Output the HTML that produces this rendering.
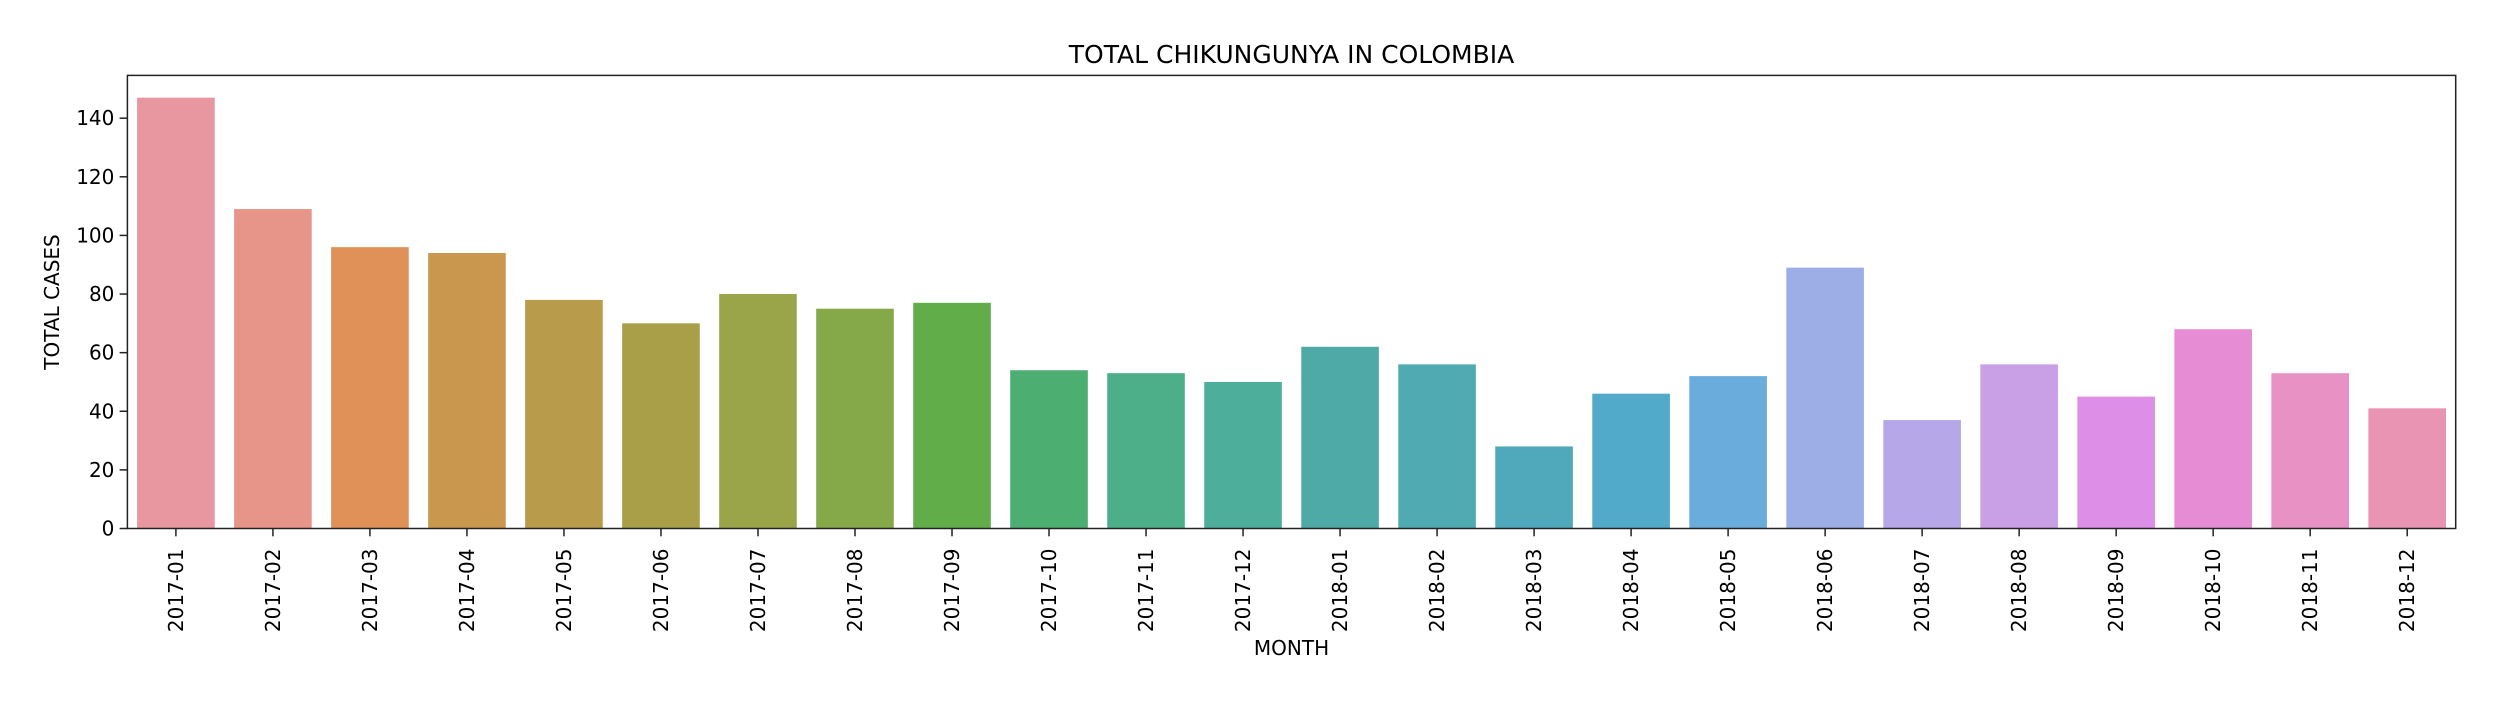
<!DOCTYPE html>
<html><head><meta charset="utf-8"><style>
html,body{margin:0;padding:0;background:#fff;}
svg text{font-family:"DejaVu Sans","Liberation Sans",sans-serif;fill:#000;}
</style></head><body>
<svg id="chart" width="2497" height="704" viewBox="0 0 2497 704" xmlns="http://www.w3.org/2000/svg">
<text x="1291.5" y="63" font-size="25" text-anchor="middle">TOTAL CHIKUNGUNYA IN COLOMBIA</text>
<text transform="translate(59,302) rotate(-90)" font-size="20" text-anchor="middle">TOTAL CASES</text>
<text x="1291.5" y="655" font-size="20" text-anchor="middle">MONTH</text>
<g id="bars"></g><g id="xticks"></g><g id="yticks"></g>
<rect x="127.4" y="75.4" width="2328.3" height="453.1" fill="none" stroke="#222" stroke-width="1.5"/>
</svg>
<script>
const categories = ["2017-01","2017-02","2017-03","2017-04","2017-05","2017-06","2017-07","2017-08","2017-09","2017-10","2017-11","2017-12","2018-01","2018-02","2018-03","2018-04","2018-05","2018-06","2018-07","2018-08","2018-09","2018-10","2018-11","2018-12"];
const values = [147,109,96,94,78,70,80,75,77,54,53,50,62,56,28,46,52,89,37,56,45,68,53,41];
const yTicks = [0,20,40,60,80,100,120,140];
const colors = ["#e8969f","#e79589","#e09157","#c9984e","#b89c4b","#a89f48","#9aa449","#85a848","#60ad4a","#4cae71","#4caf8a","#4daf9b","#4eaaa6","#4fabb1","#50a9bb","#52aacb","#6aaddd","#9caee5","#b6a8e8","#c99fe5","#dd8ee6","#e68cd4","#e891c4","#e894b2"];
const L=127.4,R=2455.7,T=75.4,B=528.5,yMax=154.6;
const NS="http://www.w3.org/2000/svg";
const band=(R-L)/categories.length;
const xScale=i=>L+band*(i+0.5);
const yScale=v=>B-(v/yMax)*(B-T);
const bars=document.getElementById('bars'),xt=document.getElementById('xticks'),yt=document.getElementById('yticks');
categories.forEach((c,i)=>{
  const r=document.createElementNS(NS,'rect');
  
  
  const w=band*0.8;
  r.setAttribute('x',xScale(i)-w/2);r.setAttribute('width',w);
  r.setAttribute('y',yScale(values[i]));r.setAttribute('height',B-yScale(values[i]));
  r.setAttribute('fill',colors[i%colors.length]);
  bars.appendChild(r);
  const tk=document.createElementNS(NS,'line');
  
  
  tk.setAttribute('x1',xScale(i));tk.setAttribute('x2',xScale(i));tk.setAttribute('y1',B);tk.setAttribute('y2',B+7.8);
  tk.setAttribute('stroke','#222');tk.setAttribute('stroke-width','1.5');
  xt.appendChild(tk);
  const t=document.createElementNS(NS,'text');
  
  
  const x=xScale(i)+7;
  t.setAttribute('transform','translate('+x+','+(B+20)+') rotate(-90)');
  t.setAttribute('text-anchor','end');t.setAttribute('font-size','20');
  t.textContent=c;xt.appendChild(t);
});
yTicks.forEach(v=>{
  const y=yScale(v);
  const tk=document.createElementNS(NS,'line');
  
  
  tk.setAttribute('x1',L-7.8);tk.setAttribute('x2',L);tk.setAttribute('y1',y);tk.setAttribute('y2',y);
  tk.setAttribute('stroke','#222');tk.setAttribute('stroke-width','1.5');
  yt.appendChild(tk);
  const t=document.createElementNS(NS,'text');
  
  
  t.setAttribute('x',L-13);t.setAttribute('y',y+7);
  t.setAttribute('text-anchor','end');t.setAttribute('font-size','20');
  t.textContent=v;yt.appendChild(t);
});
</script>
</body></html>
